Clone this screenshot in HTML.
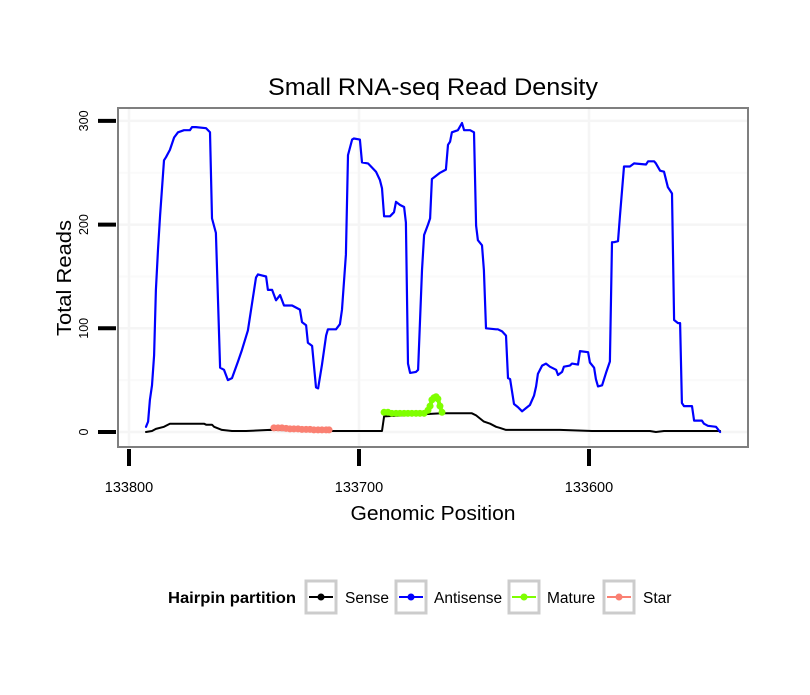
<!DOCTYPE html>
<html><head><meta charset="utf-8"><style>
body{margin:0;background:#fff;}
svg text{font-family:"Liberation Sans",sans-serif;}
</style></head><body>
<svg id="chart" width="810" height="690" xmlns="http://www.w3.org/2000/svg">
<rect width="810" height="690" fill="#fff"/>
<text x="433" y="95" font-size="24" text-anchor="middle" textLength="330" lengthAdjust="spacingAndGlyphs">Small RNA-seq Read Density</text>
<rect x="118" y="108" width="630" height="339" fill="#fff" stroke="#7f7f7f" stroke-width="2"/>
<g id="grid"></g>
<g id="series"></g>
<g id="axes"></g>
<text transform="translate(71,278) rotate(-90)" font-size="20" text-anchor="middle" textLength="116" lengthAdjust="spacingAndGlyphs">Total Reads</text>
<text x="433" y="520" font-size="20" text-anchor="middle" textLength="165" lengthAdjust="spacingAndGlyphs">Genomic Position</text>
<g>
<text x="168" y="603" font-size="15.5" font-weight="bold" textLength="128" lengthAdjust="spacingAndGlyphs">Hairpin partition</text>
<g>
<rect x="306" y="581" width="30" height="32" fill="#fff" stroke="#ccc" stroke-width="3"/>
<line x1="309" y1="597" x2="333" y2="597" stroke="#000" stroke-width="2"/><circle cx="321" cy="597" r="3.5" fill="#000"/>
<text x="345" y="603" font-size="15.5">Sense</text></g>
<g>
<rect x="396" y="581" width="30" height="32" fill="#fff" stroke="#ccc" stroke-width="3"/>
<line x1="399" y1="597" x2="423" y2="597" stroke="#0000ff" stroke-width="2"/><circle cx="411" cy="597" r="3.5" fill="#0000ff"/>
<text x="434" y="603" font-size="15.5">Antisense</text></g>
<g>
<rect x="509" y="581" width="30" height="32" fill="#fff" stroke="#ccc" stroke-width="3"/>
<line x1="512" y1="597" x2="536" y2="597" stroke="#7fff00" stroke-width="2"/><circle cx="524" cy="597" r="3.5" fill="#7fff00"/>
<text x="547" y="603" font-size="15.5">Mature</text></g>
<g>
<rect x="604" y="581" width="30" height="32" fill="#fff" stroke="#ccc" stroke-width="3"/>
<line x1="607" y1="597" x2="631" y2="597" stroke="#fa8072" stroke-width="2"/><circle cx="619" cy="597" r="3.5" fill="#fa8072"/>
<text x="643" y="603" font-size="15.5">Star</text></g>
</g>
</svg>
<script>
const xTicks=[133800,133700,133600];
const yTicks=[0,100,200,300];
const antisensePos=[133792.6,133791.7,133790.9,133790,133789.1,133788.3,133787.4,133786.5,133784.8,133783.9,133782.2,133780.4,133778.7,133776.1,133773.5,133772.6,133770.9,133766.5,133764.8,133763.9,133762.2,133761.3,133760.4,133758.7,133757,133755.2,133752.6,133750.9,133748.3,133744.8,133743.9,133742.2,133740.4,133739.6,133737.8,133736.1,133734.3,133732.6,133729.1,133725.7,133724.8,133723,133722.2,133720.4,133718.7,133717.8,133716.1,133714.3,133713.5,133710,133708.3,133707.4,133705.7,133704.8,133703,133702.2,133699.6,133698.7,133696.1,133694.3,133692.6,133690.9,133690,133689.1,133686.5,133684.8,133683.9,133682.2,133680.4,133679.6,133678.7,133677.8,133675.2,133674.3,133672.6,133671.7,133670,133669.1,133668.3,133666.5,133664.8,133662.2,133661.3,133660.4,133659.6,133657,133655.2,133654.3,133651.7,133650,133649.1,133648.3,133646.5,133645.7,133644.8,133640.4,133639.6,133637.8,133636.1,133635.2,133634.3,133632.6,133630.9,133629.1,133627.4,133625.7,133623.9,133623,133622.2,133620.4,133618.7,133617,133614.3,133613.5,133611.7,133610.9,133608.3,133607.4,133604.8,133603.9,133600.4,133599.6,133597.8,133597,133596.1,133594.3,133592.6,133590.9,133590,133589.1,133587.4,133586.5,133584.8,133582.2,133580.4,133575.2,133574.3,133571.7,133570.9,133569.1,133567.4,133565.7,133564.8,133563.9,133563,133561.3,133560.4,133559.6,133558.7,133555.2,133554.3,133550.9,133550,133548.3,133544.8,133543];
const antisenseVal=[5,10,31,45,74,137,176,209,262,265,272,284,289,291,291,294,294,293,289,206,192,127,62,60,50,52,68,79,98,149,152,151,150,137,137,127,132,122,122,118,106,103,86,83,43,42,65,93,99,99,104,118,171,267,282,283,282,260,259,255,251,243,235,208,208,212,222,219,217,202,66,57,58,60,156,190,200,206,244,247,250,253,277,280,289,291,298,291,291,289,199,185,180,156,100,99,99,97,93,52,51,27,24,20,23,26,35,44,56,64,66,63,60,55,58,63,64,66,65,78,77,67,62,51,44,45,57,68,183,183,184,209,256,256,259,258,261,261,259,252,251,236,233,230,108,105,105,28,25,25,11,11,8,6,5,0];
const sensePos=[133792.6,133790,133788.3,133784.8,133782.2,133767.4,133766.5,133763.9,133763,133759.6,133755.2,133749.1,133738.7,133712.6,133690,133689.1,133663.9,133650.9,133649.1,133647.4,133645.7,133643,133640.4,133638.7,133636.1,133612.6,133598.7,133573.5,133570.9,133567.4,133543];
const senseVal=[0,1,3,5,8,8,7,7,5,2,1,1,2,1,1,15,18,18,16,13,10,8,5,4,2,2,1,1,0,1,1];
const maturePos=[133689.1,133687.4,133685.7,133683.9,133682.2,133680.4,133678.7,133677,133675.2,133673.5,133671.7,133670,133669.1,133668.3,133667.4,133666.5,133665.7,133664.8,133663.9];
const matureVal=[19,19,18,18,18,18,18,18,18,18,18,21,25,31,33,34,32,25,19];
const starPos=[133737,133735.2,133733.5,133731.7,133730,133728.3,133726.5,133724.8,133723,133721.3,133719.6,133717.8,133716.1,133714.3,133713];
const starVal=[4,4,4,3.5,3,3,3,2.5,2.5,2.5,2,2,2,2,2];

const NS='http://www.w3.org/2000/svg';
function xs(p){return 129+(133800-p)*2.3;}
function ys(v){return 432-v*1.037;}
function mk(tag,parent,attrs){const e=document.createElementNS(NS,tag);for(const k in attrs)e.setAttribute(k,attrs[k]);parent.appendChild(e);return e;}
const grid=document.getElementById('grid'),axes=document.getElementById('axes'),series=document.getElementById('series');
yTicks.forEach(v=>{
 const g=mk('line',grid,{x1:119,x2:747,y1:ys(v),y2:ys(v),stroke:'#f5f5f5','stroke-width':2.5});
 
 
 const mv=v+50; if(ys(mv)>109){const m=mk('line',grid,{x1:119,x2:747,y1:ys(mv),y2:ys(mv),stroke:'#fafafa','stroke-width':2});
 
 }
 const t=mk('line',axes,{x1:98,x2:116,y1:ys(v),y2:ys(v),stroke:'#000','stroke-width':4});
 
 
 const l=mk('text',axes,{transform:`translate(88,${ys(v)}) rotate(-90)`,'font-size':12.5,'text-anchor':'middle'});
 l.textContent=v;
 
 
});
xTicks.forEach(p=>{
 const g=mk('line',grid,{x1:xs(p),x2:xs(p),y1:109,y2:446,stroke:'#f5f5f5','stroke-width':2.5});
 
 
 const t=mk('line',axes,{x1:xs(p),x2:xs(p),y1:449,y2:466,stroke:'#000','stroke-width':4});
 
 
 const l=mk('text',axes,{x:xs(p),y:492,'font-size':14.5,'text-anchor':'middle'});
 l.textContent=p;
 
 
});
function line(pos,val,color,w,name){
 const d=pos.map((p,i)=>(i?'L':'M')+xs(p).toFixed(1)+','+ys(val[i]).toFixed(1)).join('');
 const e=mk('path',series,{d:d,fill:'none',stroke:color,'stroke-width':w,'stroke-linejoin':'round','stroke-linecap':'round'});
 
 
}
function pts(pos,val,color,name){
 pos.forEach((p,i)=>{const c=mk('circle',series,{cx:xs(p),cy:ys(val[i]),r:3.5,fill:color});
 
 });
}
line(sensePos,senseVal,'#000',2,'sense-line');
line(antisensePos,antisenseVal,'#0000ff',2.2,'antisense-line');
line(starPos,starVal,'#fa8072',4,'star-line');
pts(starPos,starVal,'#fa8072','star-point');
line(maturePos,matureVal,'#7fff00',4,'mature-line');
pts(maturePos,matureVal,'#7fff00','mature-point');
</script>
</body></html>
